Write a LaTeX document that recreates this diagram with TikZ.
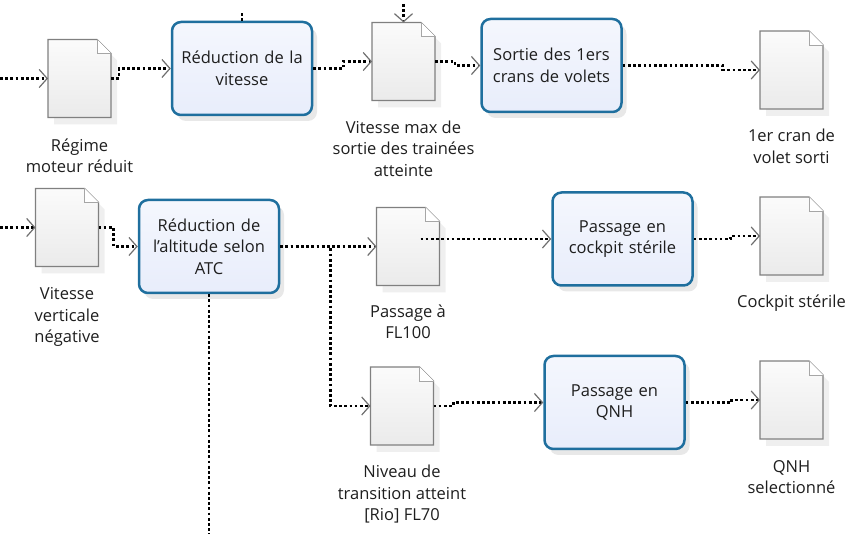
\documentclass[tikz,border=0pt]{standalone}
\usepackage{fontspec}
\setmainfont{Open Sans}
\usetikzlibrary{arrows.meta,shadows,calc}
\definecolor{pborder}{HTML}{1F6F9E}
\definecolor{pfill}{HTML}{E8EDFB}
\definecolor{dline}{HTML}{808080}
\definecolor{arrowgray}{HTML}{6E6E6E}
\definecolor{txt}{HTML}{1E1E1E}
\newcommand\docshape[1]{%
  \path[docfill] (#1.north west) -- ($(#1.north east)+(-14,0)$) -- ($(#1.north east)+(0,14)$) -- (#1.south east) -- (#1.south west) -- cycle;
  \draw[docfold] ($(#1.north east)+(-14,0)$) -- ($(#1.north east)+(-14,14)$) -- ($(#1.north east)+(0,14)$);
}
\begin{document}
\begin{tikzpicture}[x=1pt,y=-1pt,
  every node/.style={text=txt, font=\fontsize{16.5}{21.5}\selectfont},
  proc/.style={draw=pborder, line width=2.5pt, rounded corners=9pt,
    minimum width=140pt, minimum height=93pt, inner sep=1pt,
    top color=white!55!pfill, bottom color=pfill, text width=138pt, align=center,
    drop shadow={opacity=0.18, shadow xshift=5pt, shadow yshift=-6pt}},
  docnode/.style={minimum width=63pt, minimum height=78pt, inner sep=0pt, outer sep=0pt},
  docfill/.style={draw=dline, line width=1.2pt, top color=white!60!gray!8, bottom color=gray!16,
    drop shadow={opacity=0.13, shadow xshift=6pt, shadow yshift=-7pt}},
  docfold/.style={draw=dline!70, line width=0.8pt, fill=white},
  lbl/.style={anchor=north, align=center, inner sep=0pt},
  conn/.style={line width=2.7pt, dash pattern=on 2.7pt off 2.5pt},
  arr/.style={conn, -{Straight Barb[length=8pt,width=18pt,line width=1.2pt,color=arrowgray]}}
]
\useasboundingbox (0,0) rectangle (849,534);

% documents
\node[docnode] (D1) at (79.5,78.5) {};
\node[docnode] (D2) at (403.5,61.5) {};
\node[docnode] (D3) at (791.5,70) {};
\node[docnode] (D4) at (67,227.5) {};
\node[docnode] (D5) at (408,246.5) {};
\node[docnode] (D7) at (791.5,236) {};
\node[docnode] (D6) at (402,406) {};
\node[docnode] (D8) at (791.5,400) {};
\foreach \d in {D1,D2,D3,D4,D5,D7,D6,D8}{\docshape{\d}}

% labels
\node[lbl] (L1) at ($(D1.south)+(0,21)$) {Régime\\moteur réduit};
\node[lbl] (L2) at ($(D2.south)+(0,20)$) {Vitesse max de\\sortie des trainées\\atteinte};
\node[lbl] (L3) at ($(D3.south)+(0,20)$) {1er cran de\\volet sorti};
\node[lbl] (L4) at ($(D4.south)+(0,21)$) {Vitesse\\verticale\\négative};
\node[lbl] (L5) at ($(D5.south)+(0,19)$) {Passage à\\FL100};
\node[lbl] (L7) at ($(D7.south)+(0,20)$) {Cockpit stérile};
\node[lbl] (L6) at ($(D6.south)+(0,20)$) {Niveau de\\transition atteint\\{[Rio]} FL70};
\node[lbl] (L8) at ($(D8.south)+(0,21)$) {QNH\\selectionné};

% processes
\node[proc] (P1) at (242,68.5) {Réduction de la\\vitesse};
\node[proc] (P2) at (551.5,65.5) {Sortie des 1ers\\crans de volets};
\node[proc] (P3) at (209,246.5) {Réduction de\\l'altitude selon\\ATC};
\node[proc] (P4) at (622.5,239) {Passage en\\cockpit stérile};
\node[proc] (P5) at (614.5,402.5) {Passage en\\QNH};

% free ends
\coordinate (in1) at (0,78.5);
\coordinate (in4) at (0,227.5);
\coordinate (top2) at (403.5,4);
\coordinate (top1) at (242,11);
\coordinate (bot3) at (209,534);

% connectors
\draw[arr] (in1) -- (D1.west);
\draw[arr] (D1.east) -- ++(8,0) |- (P1.west);
\draw[arr] (P1.east) -- ++(30,0) |- (D2.west);
\draw[arr] (D2.east) -- ++(20,0) |- (P2.west);
\draw[arr] (P2.east) -- ++(100,0) |- (D3.west);
\draw[arr] (top2) -- (D2.north);
\draw[conn] (P1.north) -- (top1);

\draw[arr] (in4) -- (D4.west);
\draw[arr] (D4.east) -- ++(15,0) |- (P3.west);
\draw[arr] (P3.east) -- (D5.west);
\draw[arr] (P3.east) -- ++(50,0) |- (D6.west);
\draw[conn] (P3.south) -- (bot3);
\draw[arr] ($(D5.east)+(-19,-7.5)$) -- (P4.west);
\draw[arr] (P4.east) -- ++(37,0) |- (D7.west);
\draw[arr] (D6.east) -- ++(20,0) |- (P5.west);
\draw[arr] (P5.east) -- ++(46,0) |- (D8.west);
\end{tikzpicture}
\end{document}
